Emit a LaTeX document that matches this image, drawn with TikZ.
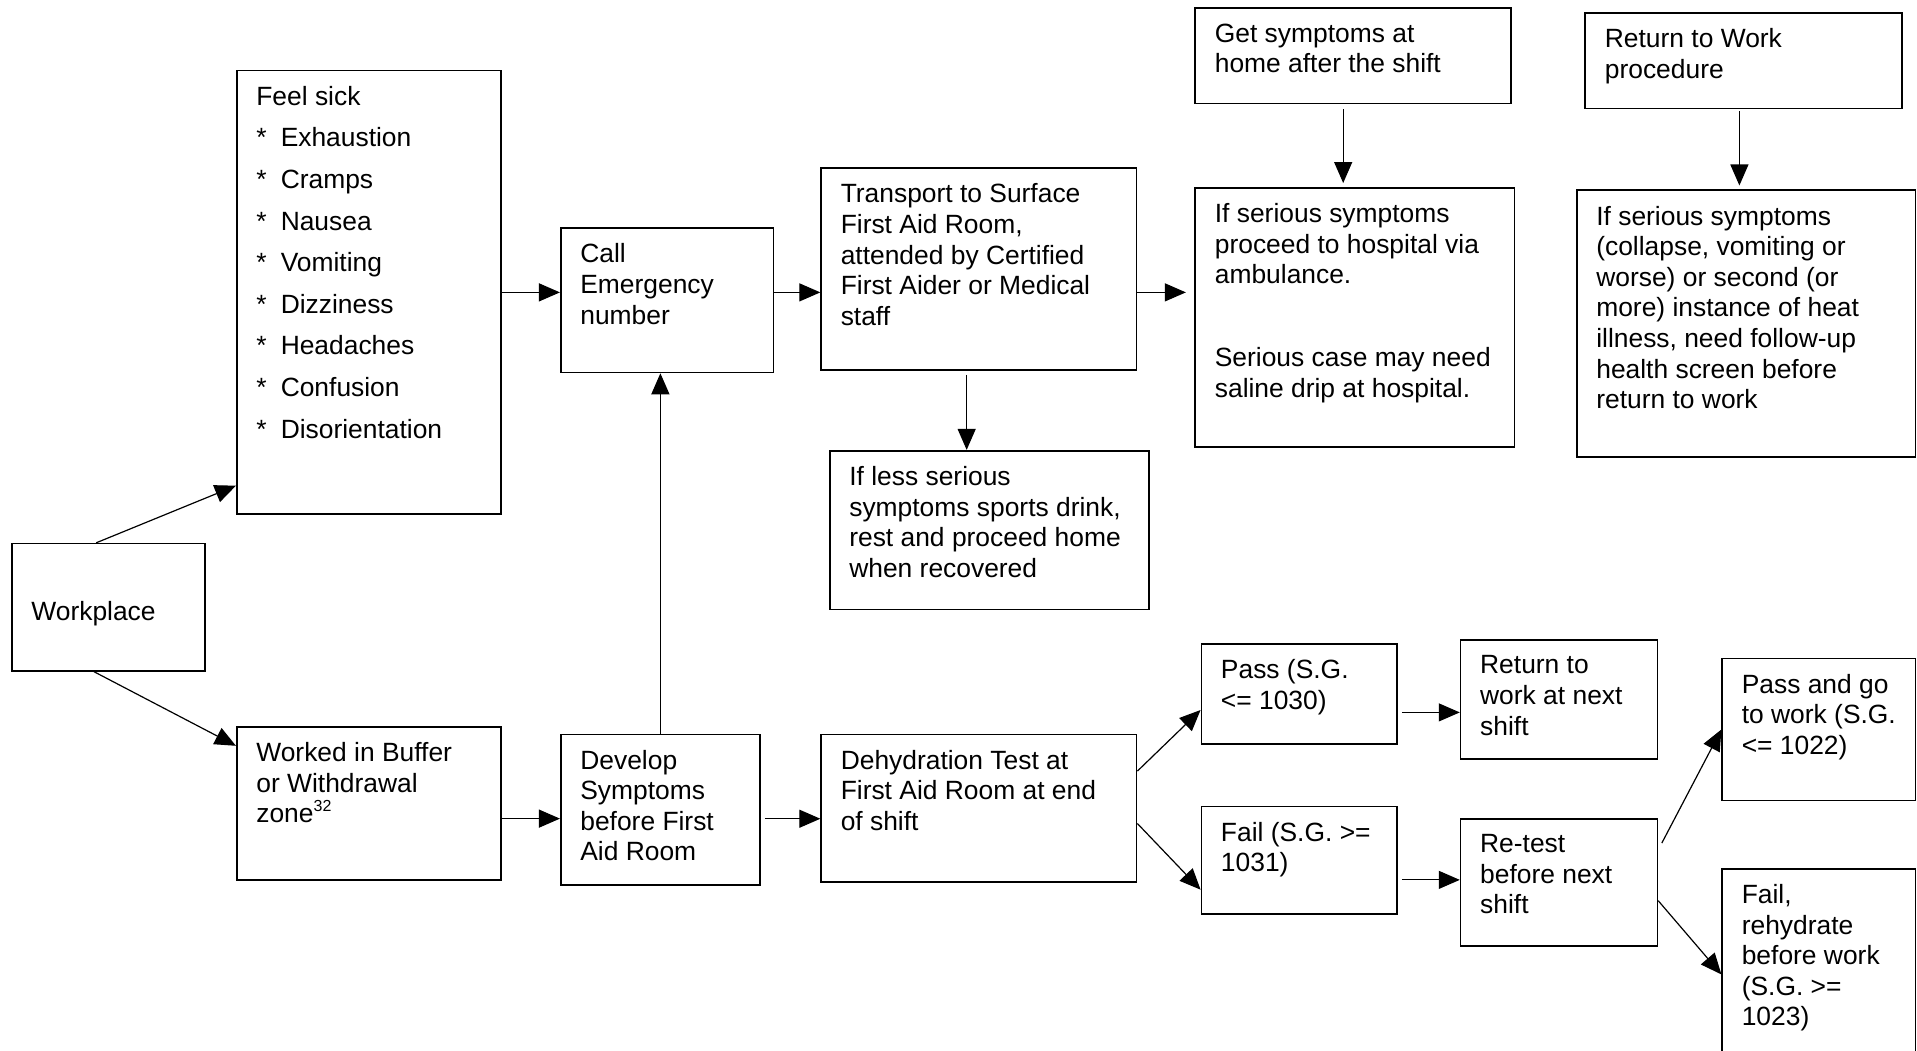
\documentclass[tikz,border=0pt]{standalone}
\usepackage{fontspec}
\setmainfont{Liberation Sans}
\usetikzlibrary{arrows.meta}
\newcommand{\itm}[1]{\makebox[12.2pt][l]{*}#1}

\begin{document}
\begin{tikzpicture}[x=0.6113pt,y=-0.6113pt,
    box/.style={draw,line width=0.8pt,anchor=north west,inner sep=0pt},
    sz/.style 2 args={minimum width=#1*0.6113pt,minimum height=#2*0.6113pt},
    txt/.style={anchor=north west,align=left,inner xsep=10pt,inner ysep=8pt,
      font=\fontsize{13.2}{15.3}\selectfont},
    >={Triangle[length=10.5pt,width=9pt]}]
    \useasboundingbox (0,0) rectangle (1568,859);

    \node[box,sz={158}{104},label={[txt,anchor=west,yshift=-3pt]west:Workplace}] (wp) at (9,444) {};
    \node[box,sz={216}{363},label={[txt,font=\fontsize{13.2}{20.8}\selectfont]north west:{Feel sick\\\itm{Exhaustion}\\\itm{Cramps}\\\itm{Nausea}\\\itm{Vomiting}\\\itm{Dizziness}\\\itm{Headaches}\\\itm{Confusion}\\\itm{Disorientation}}}] (sick) at (193,57) {};
    \node[box,sz={174}{118},label={[txt]north west:{Call\\Emergency\\number}}] (call) at (458,186) {};
    \node[box,sz={258}{165},label={[txt]north west:{Transport to Surface\\First Aid Room,\\attended by Certified\\First Aider or Medical\\staff}}] (trans) at (671,137) {};
    \node[box,sz={261}{130},label={[txt]north west:{If less serious\\symptoms sports drink,\\rest and proceed home\\when recovered}}] (less) at (678,368) {};
    \node[box,sz={258}{78},label={[txt]north west:{Get symptoms at\\home after the shift}}] (home) at (977,6) {};
    \node[box,sz={261}{212},label={[txt]north west:{If serious symptoms\\proceed to hospital via\\ambulance.\\[26.3pt]Serious case may need\\saline drip at hospital.}}] (hosp) at (977,153) {};
    \node[box,sz={259}{78},label={[txt]north west:{Return to Work\\procedure}}] (rtw) at (1296,10) {};
    \node[box,sz={277}{218},label={[txt]north west:{If serious symptoms\\(collapse, vomiting or\\worse) or second (or\\more) instance of heat\\illness, need follow-up\\health screen before\\return to work}}] (screen) at (1289,155) {};
    \node[box,sz={216}{125},label={[txt]north west:{Worked in Buffer\\or Withdrawal\\zone\raisebox{5.5pt}{\fontsize{8}{8}\selectfont 32}}}] (buffer) at (193,594) {};
    \node[box,sz={163}{123},label={[txt]north west:{Develop\\Symptoms\\before First\\Aid Room}}] (dev) at (458,600) {};
    \node[box,sz={258}{121},label={[txt]north west:{Dehydration Test at\\First Aid Room at end\\of shift}}] (dehyd) at (671,600) {};
    \node[box,sz={160}{82},label={[txt]north west:{Pass (S.G.\\<= 1030)}}] (pass) at (982,526) {};
    \node[box,sz={160}{88},label={[txt]north west:{Fail (S.G. >=\\1031)}}] (fail) at (982,659) {};
    \node[box,sz={161}{97},label={[txt]north west:{Return to\\work at next\\shift}}] (next) at (1194,523) {};
    \node[box,sz={161}{104},label={[txt]north west:{Re-test\\before next\\shift}}] (retest) at (1194,669) {};
    \node[box,sz={158}{116},label={[txt]north west:{Pass and go\\to work (S.G.\\<= 1022)}}] (go) at (1408,538) {};
    \node[box,sz={158}{160},label={[txt]north west:{Fail,\\rehydrate\\before work\\(S.G. >=\\1023)}}] (rehyd) at (1408,710) {};

    \draw [->,semithick] ([xshift=-6.1pt]wp.north) -- ([yshift=14.7pt]sick.south west) ;
    \draw [->,semithick] ([xshift=-7.3pt]wp.south) -- ([yshift=-9.8pt]buffer.north west) ;
    \draw [->,semithick] (sick.east) -- (sick.east -| call.west) ;
    \draw [->,semithick] (call.east |- sick.east) -- (trans.west |- sick.east) ;
    \draw [->,semithick,shorten >=4.3pt] (trans.east |- sick.east) -- (hosp.west |- sick.east) ;
    \draw [->,semithick,shorten <=2pt] ([xshift=-6.1pt]trans.south) coordinate (t1) -- (t1 |- less.north) ;
    \draw [->,semithick,shorten <=2.5pt,shorten >=2pt] ([xshift=-4.9pt]home.south) coordinate (h1) -- (h1 |- hosp.north) ;
    \draw [->,semithick,shorten <=1pt,shorten >=2pt] ([xshift=-2.1pt]rtw.south) coordinate (r1) -- (r1 |- screen.north) ;
    \draw [->,semithick] ([yshift=-7.6pt]buffer.east) coordinate (b1) -- (b1 -| dev.west) ;
    \draw [->,semithick] (dev.north) -- (dev.north |- call.south) ;
    \draw [->,semithick,shorten <=2pt] ([yshift=-4.6pt]dev.east) coordinate (d1) -- (d1 -| dehyd.west) ;
    \draw [->,semithick] ([yshift=18.6pt]dehyd.east) -- ([yshift=-8pt]pass.west) ;
    \draw [->,semithick] ([yshift=-7.6pt]dehyd.east) -- ([yshift=-14.7pt]fail.west) ;
    \draw [->,semithick,shorten <=2pt] ([yshift=-9.2pt]pass.east) coordinate (p1) -- (p1 -| next.west) ;
    \draw [->,semithick,shorten <=2pt] ([yshift=-9.8pt]fail.east) coordinate (f1) -- (f1 -| retest.west) ;
    \draw [->,semithick] ([xshift=1.8pt,yshift=19.6pt]retest.east) -- (go.west) ;
    \draw [->,semithick] ([yshift=-9.2pt]retest.east) -- ([yshift=-53.2pt]rehyd.north west) ;
\end{tikzpicture}
\end{document}
